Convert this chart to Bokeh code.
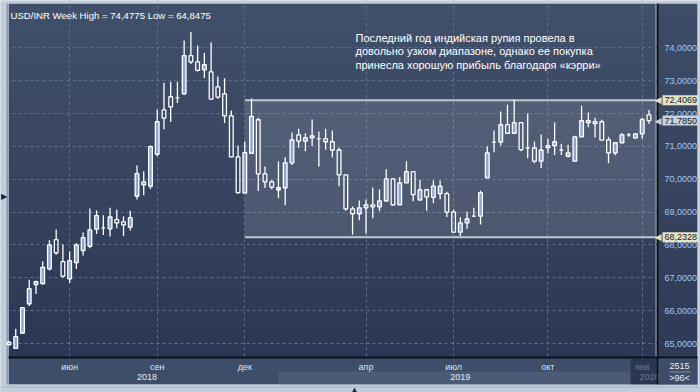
import numpy as np
import pandas as pd
from bokeh.plotting import figure
from bokeh.models import (Range1d, FixedTicker, CustomJSTickFormatter,
                          BoxAnnotation, Label, ColumnDataSource)
from bokeh.embed import file_html
from bokeh.resources import INLINE

# ---------------- data (weekly USD/INR candles) ----------------
week_idx = list(range(0, 96))
opens = [65.04, 64.85, 65.32, 66.21, 66.79, 66.82, 67.27, 68.16, 67.49, 66.97,
         67.46, 67.83, 67.96, 68.48, 68.52, 68.49, 68.77, 68.70, 68.54, 69.49,
         69.83, 69.79, 70.76, 72.11, 72.51, 72.48, 72.60, 73.76, 73.57, 73.33,
         73.27, 72.81, 72.60, 71.93, 70.68, 69.58, 70.79, 71.81, 70.16, 69.92,
         69.68, 69.74, 70.50, 71.35, 71.16, 71.26, 71.23, 71.23, 71.14, 70.89,
         70.13, 69.10, 68.95, 69.13, 69.22, 69.16, 69.34, 70.01, 69.22, 69.89,
         70.23, 69.37, 69.68, 69.45, 69.56, 69.56, 69.00, 68.39, 68.67, 68.88,
         68.88, 70.04, 71.13, 71.13, 71.66, 71.40, 71.72, 70.95, 70.95, 70.55,
         70.96, 71.02, 70.89, 70.70, 70.55, 71.29, 71.78, 71.75, 71.75, 71.20,
         70.80, 71.11, 71.35, 71.26, 71.38, 71.96]
highs = [65.08, 65.45, 66.11, 66.94, 66.92, 67.50, 68.14, 68.47, 68.01, 67.80,
         68.05, 68.38, 69.11, 69.05, 68.90, 69.13, 69.08, 68.87, 69.04, 70.42,
         70.24, 71.03, 72.12, 72.94, 72.97, 72.97, 74.22, 74.4775, 74.07, 73.84,
         74.16, 73.13, 73.07, 72.09, 71.03, 71.15, 72.46, 71.87, 70.39, 69.98,
         70.54, 70.67, 71.42, 71.54, 71.40, 71.82, 71.45, 71.54, 71.48, 70.96,
         70.13, 69.17, 69.35, 69.38, 69.75, 69.69, 70.30, 70.01, 70.07, 70.55,
         70.23, 69.98, 69.68, 69.96, 69.96, 69.62, 69.08, 68.84, 69.02, 69.13,
         69.66, 71.00, 71.48, 72.06, 72.27, 72.42, 71.72, 72.00, 71.15, 71.36,
         71.23, 71.73, 71.08, 71.05, 71.32, 72.24, 72.03, 71.87, 71.81, 71.29,
         71.11, 71.41, 71.41, 71.41, 71.87, 72.11]
lows = [64.93, 64.8475, 65.30, 66.14, 66.51, 66.79, 67.22, 67.70, 67.00, 66.84,
        67.27, 67.68, 67.90, 68.33, 68.30, 68.26, 68.51, 68.27, 68.44, 69.38,
        69.51, 69.70, 70.70, 71.52, 71.74, 72.32, 72.57, 73.51, 73.28, 73.08,
        72.44, 72.45, 71.71, 70.67, 69.56, 69.58, 70.79, 69.64, 69.73, 69.69,
        69.42, 69.21, 70.43, 70.96, 70.85, 71.01, 70.39, 70.90, 70.66, 69.79,
        69.04, 68.32, 68.75, 68.35, 68.81, 69.03, 69.31, 69.19, 69.22, 69.89,
        69.33, 69.34, 69.04, 69.27, 69.39, 68.85, 68.36, 68.27, 68.49, 68.85,
        68.62, 70.04, 70.82, 71.03, 71.38, 71.40, 70.85, 70.64, 70.49, 70.34,
        70.79, 70.74, 70.74, 70.67, 70.55, 71.29, 71.58, 71.27, 71.19, 70.49,
        70.73, 71.11, 71.29, 71.23, 71.23, 71.69]
closes = [64.97, 65.21, 66.09, 66.67, 66.88, 67.32, 68.00, 67.76, 67.05, 67.52,
          68.00, 68.22, 68.46, 68.89, 68.52, 68.85, 68.67, 68.61, 68.83, 70.17,
          69.92, 70.99, 71.75, 71.86, 72.20, 72.48, 73.76, 73.57, 73.31, 73.49,
          72.44, 72.50, 71.93, 70.68, 69.59, 70.81, 71.91, 70.16, 69.92, 69.76,
          69.74, 70.50, 71.20, 71.16, 71.26, 71.32, 71.23, 71.14, 70.89, 70.13,
          69.10, 68.95, 69.13, 69.22, 69.16, 69.34, 70.01, 69.22, 69.89, 70.23,
          69.53, 69.68, 69.46, 69.79, 69.79, 69.00, 68.39, 68.67, 68.79, 68.88,
          69.59, 70.80, 71.13, 71.66, 71.40, 71.72, 70.90, 70.95, 70.55, 70.89,
          71.02, 71.14, 70.89, 70.80, 71.29, 71.78, 71.72, 71.69, 71.19, 70.80,
          71.11, 71.35, 71.35, 71.38, 71.82, 71.785]

month_ticks = [9, 22, 35, 53, 66, 80, 94]
month_labels = ["июн", "сен", "дек", "апр", "июл", "окт", "янв"]
year_ticks = [20.5, 67, 95.1]
year_labels = ["2018", "2019", "2020"]
price_ticks = [65, 66, 67, 68, 69, 70, 71, 72, 73, 74]

range_start = 35
range_high = 72.4069
range_low = 68.2328
last_close = 71.785
title_text = "USD/INR Week High = 74,4775 Low = 64,8475"
note_lines = ["Последний год индийская рупия провела в",
              "довольно узком диапазоне, однако ее покупка",
              "принесла хорошую прибыль благодаря «кэрри»"]
counter_top = "2515"
counter_bottom = ">96<"

# ---------------- layout / calibration constants (pixels) ----------------
W, H = 700, 392
PL, PT, PR, PB = 8, 3, 657, 357       # price-plot area in page pixels
OUT_R, OUT_B = 697, 384               # outer edge of the dark panels
PX_WEEK = 6.7553                      # pixels per weekly candle
X_FIRST = 15.3                        # pixel of candle 1
PX_UNIT = 32.857                      # pixels per rupee
Y_74 = 47.3                           # pixel of the 74 level
FONT = "Liberation Sans"


def xd(X):   # page pixel -> week index
    return 1 + (X - X_FIRST) / PX_WEEK


def yd(Y):   # page pixel -> price
    return 74 - (Y - Y_74) / PX_UNIT


def sx(X):   # page pixel -> frame screen units
    return X


def sy(Y):
    return H - Y


def fmt(v):
    return f"{v:.4f}".replace(".", ",")


LOOKUP = "const i = tv.indexOf(tick); return i >= 0 ? lab[i] : '';"

p = figure(width=W, height=H, output_backend="svg", toolbar_location=None,
           x_range=Range1d(xd(0), xd(W)), y_range=Range1d(yd(H), yd(0)),
           y_axis_location="right",
           min_border_left=0, min_border_right=0, min_border_top=0, min_border_bottom=0,
           background_fill_color="#c2cddb", border_fill_color="#c2cddb",
           outline_line_color=None)

# vertical gradient of the price area
n = 256
t = np.linspace(0.0, 1.0, n)
bottom_rgb = np.array([43, 56, 85])
top_rgb = np.array([66, 81, 107])
img = np.zeros((n, 1), dtype=np.uint32)
view = img.view(dtype=np.uint8).reshape((n, 1, 4))
for k in range(3):
    view[:, 0, k] = (bottom_rgb[k] + (top_rgb[k] - bottom_rgb[k]) * t).astype(np.uint8)
view[:, 0, 3] = 255
p.image_rgba(image=[img], x=xd(PL), y=yd(PB), dw=xd(PR) - xd(PL), dh=yd(PT) - yd(PB),
             level="image")

# grid
for g in (p.xgrid, p.ygrid):
    g.grid_line_color = "#5e6e8b"
    g.grid_line_dash = "3 3"
    g.grid_line_width = 1
p.xgrid.ticker = FixedTicker(ticks=month_ticks)
p.ygrid.ticker = FixedTicker(ticks=price_ticks)


def box(X0, Y0, X1, Y1, color, alpha=1.0, level="underlay"):
    p.add_layout(BoxAnnotation(left=sx(X0), right=sx(X1), top=sy(Y0), bottom=sy(Y1),
                               left_units="screen", right_units="screen",
                               top_units="screen", bottom_units="screen",
                               fill_color=color, fill_alpha=alpha, line_color=None,
                               level=level))


# trading range box
p.add_layout(BoxAnnotation(left=range_start, right=xd(PR), bottom=range_low, top=range_high,
                           fill_color="white", fill_alpha=0.12, line_color=None,
                           level="underlay"))
p.segment(x0=[range_start, range_start], y0=[range_high, range_low],
          x1=[xd(PR), xd(PR)], y1=[range_high, range_low],
          line_color="#c4c8d0", line_width=2)

# right panel (gradient) and bottom panel
nb = 30
for i in range(nb):
    y0 = PT + (PB - PT) * i / nb
    y1 = PT + (PB - PT) * (i + 1) / nb
    f = i / (nb - 1)
    col = tuple(int(round(a + (b - a) * f)) for a, b in zip((62, 77, 103), (46, 59, 87)))
    box(PR, y0, OUT_R, y1 + 0.6, "#%02x%02x%02x" % col)
box(PL, PB, OUT_R, OUT_B, "#3e4d69")
box(278, 371, 630, OUT_B, "#4b5a76")
# outer light frame
box(0, 0, PL, H, "#c2cddb")
box(0, 0, W, PT, "#c2cddb")
box(OUT_R, 0, W, H, "#c2cddb")
box(0, OUT_B, W, H, "#c2cddb")
box(6, PT, 7.6, OUT_B, "#8c99ab")
box(0, 386, W, 387, "#a9b5c5")

# candles
df = pd.DataFrame(dict(x=week_idx, o=opens, h=highs, l=lows, c=closes))
df["top"] = df[["o", "c"]].max(axis=1)
df["bot"] = df[["o", "c"]].min(axis=1)
src = ColumnDataSource(df)
p.segment(x0="x", y0="h", x1="x", y1="top", source=src, line_color="white", line_width=1.3)
p.segment(x0="x", y0="bot", x1="x", y1="l", source=src, line_color="white", line_width=1.3)
up = ColumnDataSource(df[df.c > df.o])
dn = ColumnDataSource(df[df.c <= df.o])
p.vbar(x="x", top="top", bottom="bot", width=0.55, source=up,
       fill_color="#8ea6d0", line_color="white", line_width=1.3)
p.vbar(x="x", top="top", bottom="bot", width=0.55, source=dn,
       fill_alpha=0, line_color="white", line_width=1.3)

# right price axis (labels pulled into the dark right panel)
ya = p.yaxis[0]
ya.ticker = FixedTicker(ticks=price_ticks)
ya.formatter = CustomJSTickFormatter(code="return tick.toFixed(4).replace('.', ',');")
ya.major_label_text_font = FONT
ya.major_label_text_font_size = "9px"
ya.major_label_text_color = "#a6c8ef"
ya.major_label_standoff = 660 - W
ya.major_tick_line_color = None
ya.minor_tick_line_color = None
ya.axis_line_color = None

# month axis (labels pulled into the dark bottom panel)
xa = p.xaxis[0]
xa.ticker = FixedTicker(ticks=month_ticks)
xa.formatter = CustomJSTickFormatter(args=dict(tv=month_ticks, lab=month_labels), code=LOOKUP)
xa.major_label_text_font = FONT
xa.major_label_text_font_size = "9px"
xa.major_label_text_color = "#dde5ef"
xa.major_label_standoff = 364 - H - 9
xa.major_tick_line_color = None
xa.minor_tick_line_color = None
xa.axis_line_color = None

# year labels
for xv, txt in zip(year_ticks, year_labels):
    p.add_layout(Label(x=xv, y=sy(376), x_units="data", y_units="screen", text=txt,
                       text_font=FONT, text_font_size="9px", text_color="#e6ecf4",
                       text_align="center", text_baseline="middle"))

# title and note
p.add_layout(Label(x=sx(10), y=sy(15), x_units="screen", y_units="screen",
                   text=title_text, text_font=FONT, text_font_size="9.6px",
                   text_color="white", text_baseline="middle"))
for i, line in enumerate(note_lines):
    p.add_layout(Label(x=sx(355), y=sy(37 + 13.6 * i), x_units="screen", y_units="screen",
                       text=line, text_font=FONT, text_font_size="11px",
                       text_color="white", text_baseline="middle"))

# black separators
box(PL, PB - 1, OUT_R, PB + 1, "#0b1019", level="annotation")
box(PR - 1, PT, PR + 1, OUT_B, "#0b1019", level="annotation")
# dim overlay on the last period of the date axis
box(630, PB + 1, PR - 1, OUT_B, "#1f2a40", alpha=0.62, level="annotation")
# bottom-right corner panel
box(PR + 1, PB + 1, OUT_R, OUT_B, "#3d4c69", level="annotation")

# price tags on the right axis
for v, bg in ((range_high, "#e7e4c6"), (last_close, "#c9d0da"), (range_low, "#e7e4c6")):
    p.add_layout(Label(x=sx(661), y=v, x_units="screen", y_units="data", text="◀",
                       text_font="DejaVu Sans", text_font_size="9px", text_color=bg,
                       text_align="right", text_baseline="middle"))
    p.add_layout(Label(x=sx(662), y=v, x_units="screen", y_units="data", text=fmt(v),
                       text_font=FONT, text_font_size="9px", text_color="#0e1a2e",
                       text_baseline="middle", background_fill_color=bg,
                       padding=2))

# counters in the corner
p.add_layout(Label(x=sx(679), y=sy(365), x_units="screen", y_units="screen", text=counter_top,
                   text_font=FONT, text_font_size="9px", text_color="#e8eef6",
                   text_align="center", text_baseline="middle"))
box(669, 371, 690, 372, "#8290a6", level="annotation")
p.add_layout(Label(x=sx(679), y=sy(377.5), x_units="screen", y_units="screen",
                   text=counter_bottom, text_font=FONT, text_font_size="9px",
                   text_color="#e8eef6", text_align="center", text_baseline="middle"))

# small navigation arrows on the frame
p.add_layout(Label(x=sx(3.5), y=sy(196), x_units="screen", y_units="screen", text="▶",
                   text_font="DejaVu Sans", text_font_size="8px", text_color="#1c2638",
                   text_align="center", text_baseline="middle"))
p.add_layout(Label(x=sx(354), y=sy(389), x_units="screen", y_units="screen", text="▲",
                   text_font="DejaVu Sans", text_font_size="7px", text_color="#1c2638",
                   text_align="center", text_baseline="middle"))

open("out.html", "w").write(file_html(p, INLINE))
